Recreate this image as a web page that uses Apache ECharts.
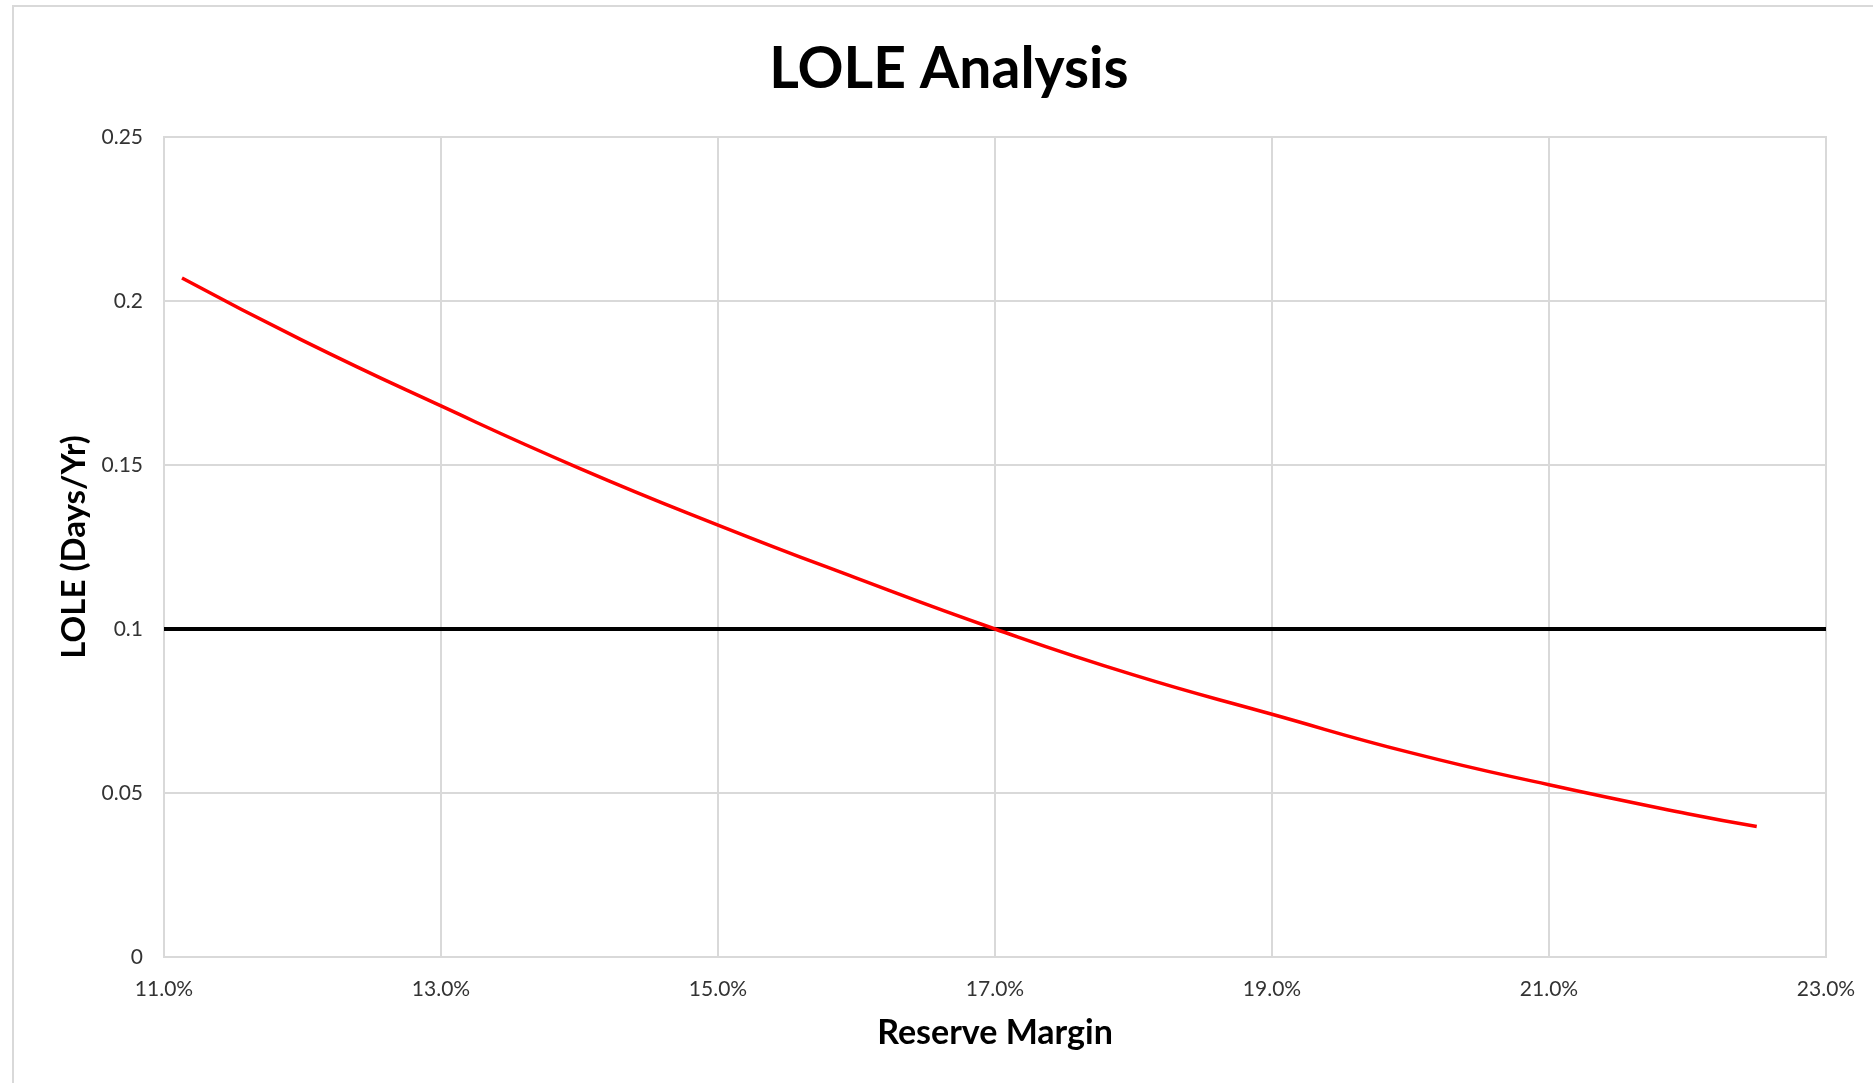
<!DOCTYPE html>
<html>
<head>
<meta charset="utf-8">
<title>LOLE Analysis</title>
<script src="https://cdn.jsdelivr.net/npm/echarts@6/dist/echarts.min.js"></script>
<style>
  html, body { margin: 0; padding: 0; background: #ffffff; }
  #chart { width: 1873px; height: 1083px; }
</style>
</head>
<body>
<div id="chart"></div>
<script>
// Reserve margin (%) and the resulting loss-of-load expectation (days/yr)
var reserveMargin = [11.13, 12.0, 13.0, 14.0, 15.0, 16.0, 17.0, 18.0, 19.0, 20.0, 21.0, 22.0, 22.5];
var lole          = [0.207, 0.188, 0.168, 0.149, 0.1317, 0.1155, 0.100, 0.086, 0.074, 0.0623, 0.0525, 0.0437, 0.0398];

// 0.1 days/yr reliability target, drawn across the full axis range
var targetX = [11, 23];
var targetY = [0.1, 0.1];

var title = 'LOLE Analysis';
var xAxisTitle = 'Reserve Margin';
var yAxisTitle = 'LOLE (Days/Yr)';

function pairs(xs, ys) {
  return xs.map(function (x, i) { return [x, ys[i]]; });
}

var FONT = 'Lato, "Open Sans", sans-serif';
var GRID_COLOR = '#d9d9d9';

var chart = echarts.init(document.getElementById('chart'), null, { renderer: 'canvas' });

chart.setOption({
  backgroundColor: '#ffffff',
  animation: false,
  graphic: [{
    type: 'rect',
    shape: { x: 13, y: 6, width: 1900, height: 1100 },
    style: { fill: 'none', stroke: GRID_COLOR, lineWidth: 2 },
    z: -10
  }],
  title: {
    text: title,
    left: 944,
    textAlign: 'center',
    top: 36,
    textStyle: { fontFamily: FONT, fontWeight: 'bold', fontSize: 57, color: '#000000' }
  },
  grid: { left: 164, top: 137, right: 47, bottom: 126, show: true, borderColor: GRID_COLOR, borderWidth: 2 },
  xAxis: {
    type: 'value',
    min: 11,
    max: 23,
    interval: 2,
    name: xAxisTitle,
    nameLocation: 'middle',
    nameGap: 59,
    nameTextStyle: { fontFamily: FONT, fontWeight: 'bold', fontSize: 34, color: '#000000' },
    axisLine: { show: true, lineStyle: { color: GRID_COLOR, width: 2 } },
    axisTick: { show: false },
    axisLabel: {
      margin: 22,
      fontFamily: FONT,
      fontSize: 21,
      color: '#333333',
      formatter: function (v) { return v.toFixed(1) + '%'; }
    },
    splitLine: { show: true, lineStyle: { color: GRID_COLOR, width: 2 } }
  },
  yAxis: {
    type: 'value',
    min: 0,
    max: 0.25,
    interval: 0.05,
    name: yAxisTitle,
    nameLocation: 'middle',
    nameGap: 73,
    nameRotate: 90,
    nameTextStyle: { fontFamily: FONT, fontWeight: 'bold', fontSize: 33, color: '#000000' },
    axisLine: { show: true, lineStyle: { color: GRID_COLOR, width: 2 } },
    axisTick: { show: false },
    axisLabel: {
      margin: 21,
      fontFamily: FONT,
      fontSize: 21,
      color: '#333333',
      formatter: function (v) { return String(parseFloat(v.toFixed(2))); }
    },
    splitLine: { show: true, lineStyle: { color: GRID_COLOR, width: 2 } }
  },
  series: [
    {
      name: 'Target',
      type: 'line',
      data: pairs(targetX, targetY),
      showSymbol: false,
      lineStyle: { color: '#000000', width: 4 },
      z: 3
    },
    {
      name: 'LOLE',
      type: 'line',
      data: pairs(reserveMargin, lole),
      smooth: true,
      showSymbol: false,
      lineStyle: { color: '#ff0000', width: 3.5 },
      z: 4
    }
  ]
});
</script>
</body>
</html>
